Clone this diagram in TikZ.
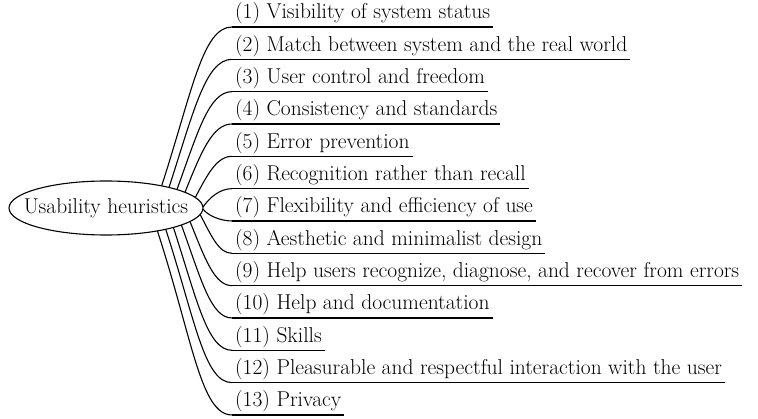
\documentclass[tikz,border=0pt]{standalone}
\usetikzlibrary{shapes.geometric, calc}

\begin{document}
\begin{tikzpicture}[
  x=1pt, y=1pt,
  font=\fontsize{21.5}{24}\selectfont,
  line width=1.1pt,
  item/.style={anchor=south west, inner xsep=2.5pt, inner ysep=0pt,
    text height=14pt, text depth=7.5pt}
]
\useasboundingbox (0,0) rectangle (758,418);

% ------------------- Centre ------------------- %
\node[draw, ellipse, minimum width=194pt, minimum height=54pt, inner sep=0pt]
  (uh) at (106,210) {\makebox[0pt]{Usability heuristics}};

% ------------------- Heuristics ------------------- %
\foreach \i/\a/\o/\t in {
  1/55/72/{(1) Visibility of system status},
  2/49.5/72/{(2) Match between system and the real world},
  3/43/70/{(3) User control and freedom},
  4/35.5/68/{(4) Consistency and standards},
  5/23/62/{(5) Error prevention},
  6/2/55/{(6) Recognition rather than recall},
  7/-2/-55/{(7) Flexibility and efficiency of use},
  8/-14/-62/{(8) Aesthetic and minimalist design},
  9/-30/-68/{(9) Help users recognize, diagnose, and recover from errors},
  10/-39/-70/{(10) Help and documentation},
  11/-46/-72/{(11) Skills},
  12/-52/-72/{(12) Pleasurable and respectful interaction with the user},
  13/-58/-72/{(13) Privacy}} {
  \node[item] (h\i) at (232,{391-(\i-1)*32.33}) {\t};
  \draw (h\i.south west) -- (h\i.south east);
  \coordinate (s\i) at ([shift={(\a:97 and 27)}]uh.center);
  \draw let \p1=(s\i), \p2=(h\i.south west) in
    (s\i) .. controls +(\o:{0.62*abs(\y2-\y1)}) and +({-0.42*(\x2-\x1)},0) .. (h\i.south west);
}

\end{tikzpicture}
\end{document}
